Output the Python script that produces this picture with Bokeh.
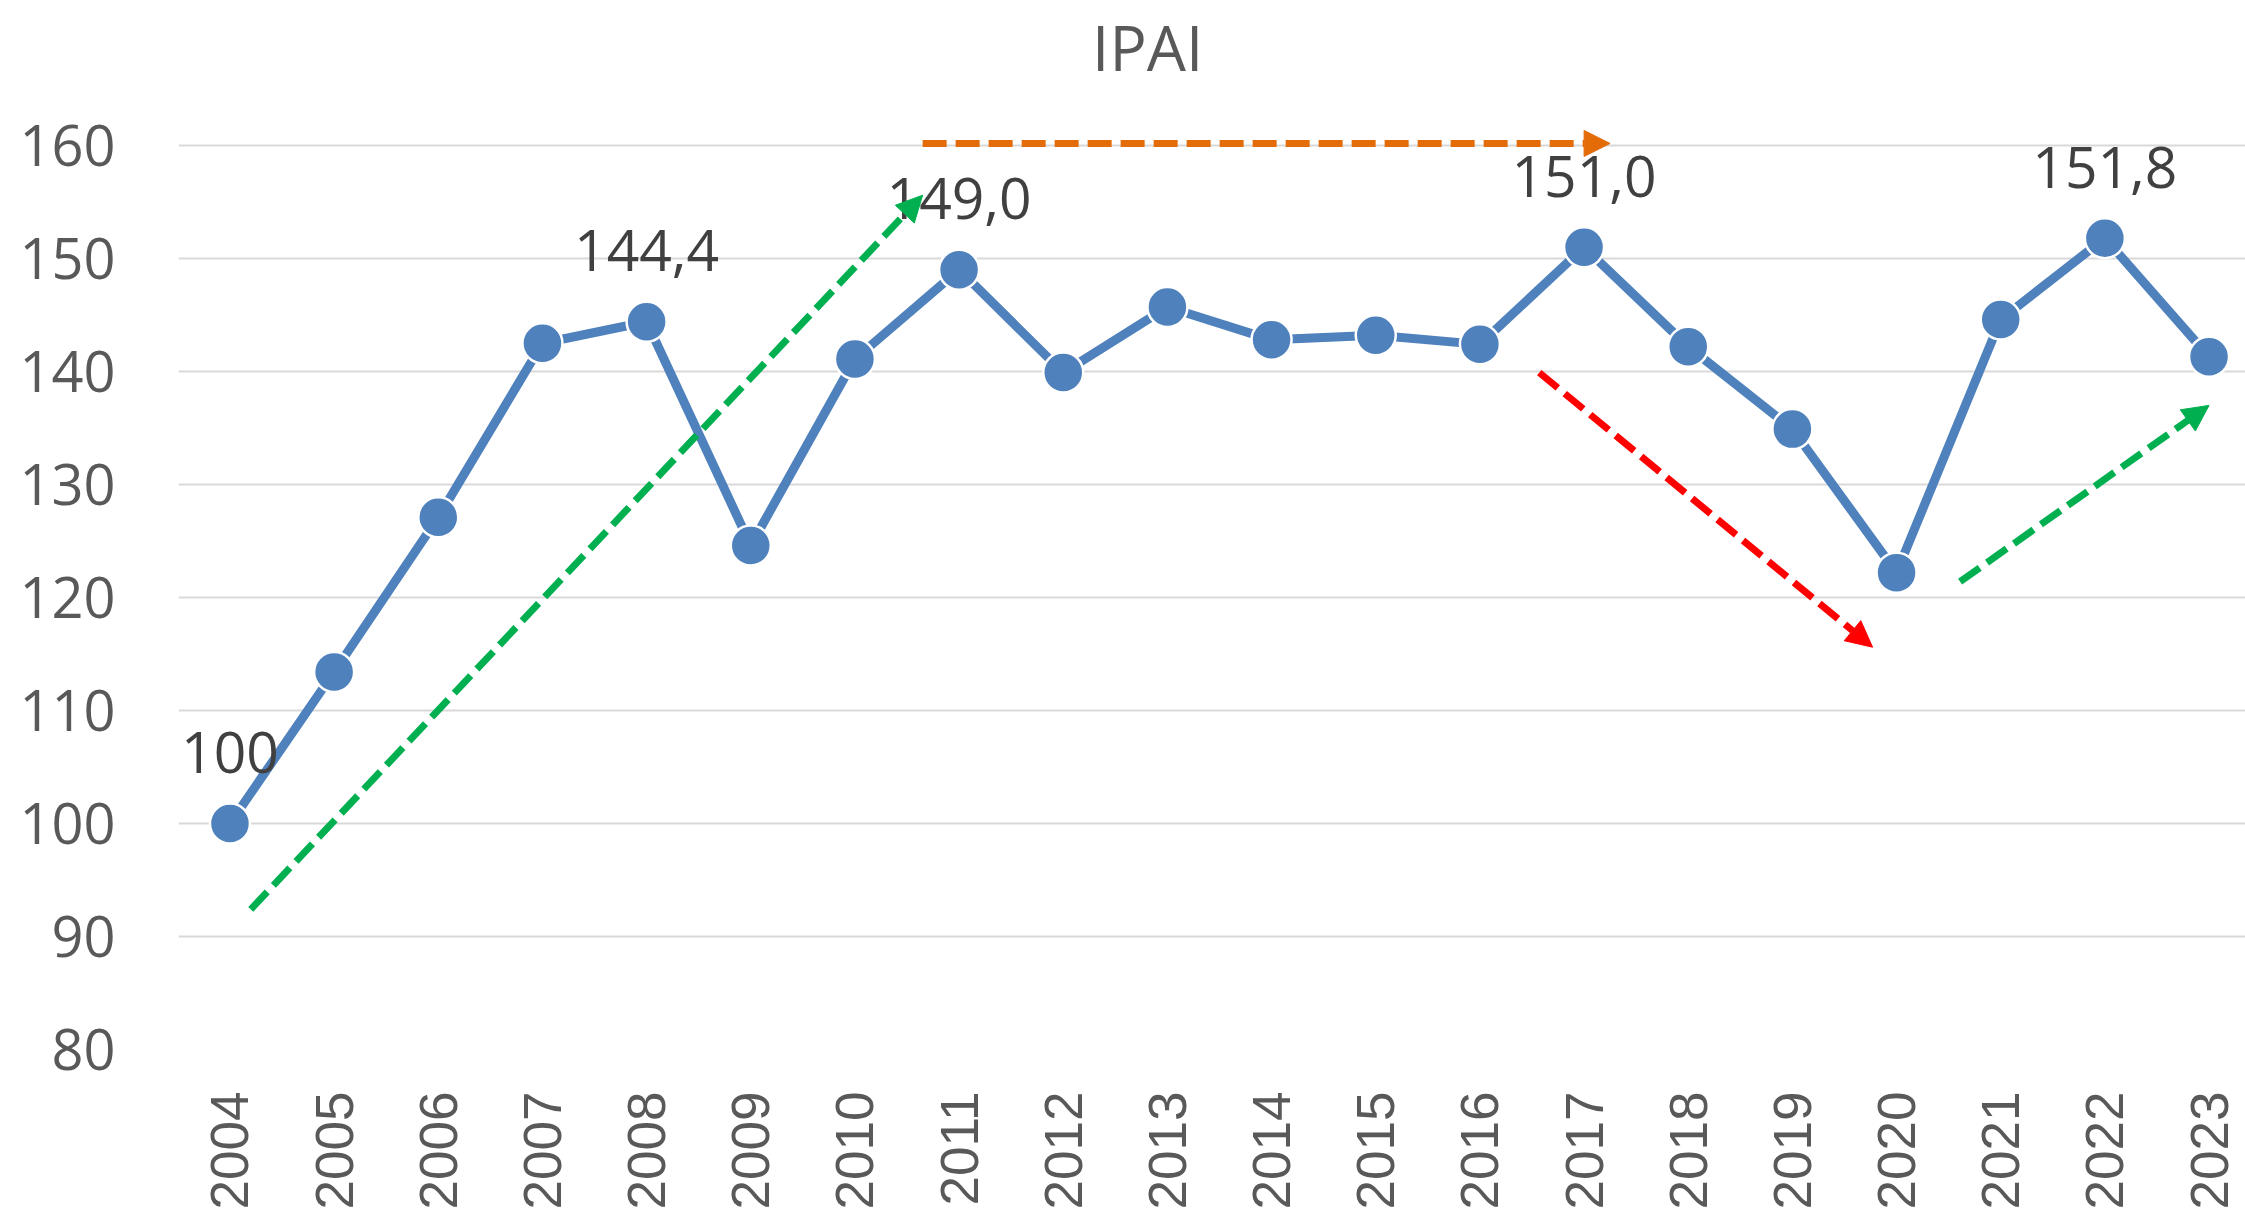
import math
from bokeh.plotting import figure
from bokeh.models import Range1d, FixedTicker, Arrow, NormalHead, Label, ColumnDataSource
from bokeh.core.properties import value
from bokeh.embed import file_html
from bokeh.resources import INLINE

# ---- data ----
years = ["2004", "2005", "2006", "2007", "2008", "2009", "2010", "2011", "2012", "2013",
         "2014", "2015", "2016", "2017", "2018", "2019", "2020", "2021", "2022", "2023"]
ipai = [100.0, 113.4, 127.1, 142.5, 144.4, 124.6, 141.1, 149.0, 139.9, 145.7,
        142.8, 143.2, 142.4, 151.0, 142.2, 134.9, 122.2, 144.6, 151.8, 141.3]
label_years = ["2004", "2008", "2011", "2017", "2022"]
label_texts = ["100", "144,4", "149,0", "151,0", "151,8"]
y_ticks = [80, 90, 100, 110, 120, 130, 140, 150, 160]

# hand-drawn trend arrows (start/end in data units: category index, value)
arrow_x_start = [0.20, 6.65, 12.57, 16.61]
arrow_y_start = [92.4, 160.18, 139.9, 121.4]
arrow_x_end = [6.65, 13.25, 15.77, 19.0]
arrow_y_end = [155.6, 160.18, 115.6, 137.0]
arrow_colors = ["#00B050", "#E36C09", "#FF0000", "#00B050"]

title_text = "IPAI"

# ---- figure ----
x_idx = list(range(len(years)))
p = figure(width=2245, height=1220, output_backend="svg", toolbar_location=None,
           x_range=Range1d(-0.494, 19.35), y_range=Range1d(80, 172.83),
           min_border_left=178, min_border_right=0, min_border_top=0, min_border_bottom=171)
p.outline_line_color = None
p.background_fill_color = "white"
p.border_fill_color = "white"

# grid
p.xgrid.visible = False
p.ygrid.ticker = FixedTicker(ticks=y_ticks)
p.ygrid.grid_line_color = "#D9D9D9"
p.ygrid.grid_line_width = 2

# y axis
p.yaxis.ticker = FixedTicker(ticks=y_ticks)
p.yaxis.axis_line_color = None
p.yaxis.major_tick_line_color = None
p.yaxis.minor_tick_line_color = None
p.yaxis.major_tick_out = 0
p.yaxis.major_label_standoff = 63
p.yaxis.major_label_text_font = "Open Sans"
p.yaxis.major_label_text_font_size = "56px"
p.yaxis.major_label_text_color = "#595959"

# x axis
p.xaxis.ticker = FixedTicker(ticks=x_idx)
p.xaxis.major_label_overrides = {i: y for i, y in zip(x_idx, years)}
p.xaxis.major_label_orientation = math.pi / 2
p.xaxis.axis_line_color = None
p.xaxis.major_tick_line_color = None
p.xaxis.minor_tick_line_color = None
p.xaxis.major_tick_out = 0
p.xaxis.major_label_standoff = 42
p.xaxis.major_label_text_font = "Liberation Sans"
p.xaxis.major_label_text_font_size = "53px"
p.xaxis.major_label_text_color = "#595959"

# series
src = ColumnDataSource(dict(x=x_idx, y=ipai))
p.line("x", "y", source=src, line_color="#4F81BD", line_width=9)
p.scatter("x", "y", source=src, size=40, fill_color="#4F81BD", line_color="white", line_width=2.5)

# data labels
lab_x = [years.index(y) for y in label_years]
lab_y = [ipai[i] for i in lab_x]
lsrc = ColumnDataSource(dict(x=lab_x, y=lab_y, t=label_texts))
p.text("x", "y", text="t", source=lsrc, text_align="center", text_baseline="alphabetic",
       y_offset=-71, text_font=value("Open Sans"), text_font_size="57px", text_color="#404040")

# arrows
for xs, ys, xe, ye, c in zip(arrow_x_start, arrow_y_start, arrow_x_end, arrow_y_end, arrow_colors):
    p.add_layout(Arrow(x_start=xs, y_start=ys, x_end=xe, y_end=ye,
                       line_color=c, line_width=7, line_dash="24 9",
                       end=NormalHead(size=26, fill_color=c, line_color=c, line_width=1)))

# title
p.add_layout(Label(x=8.81, y=168.7, text=title_text, text_align="center", text_baseline="alphabetic",
                   text_font="Open Sans", text_font_size="62px", text_color="#595959"))

open("out.html", "w").write(file_html(p, INLINE))
